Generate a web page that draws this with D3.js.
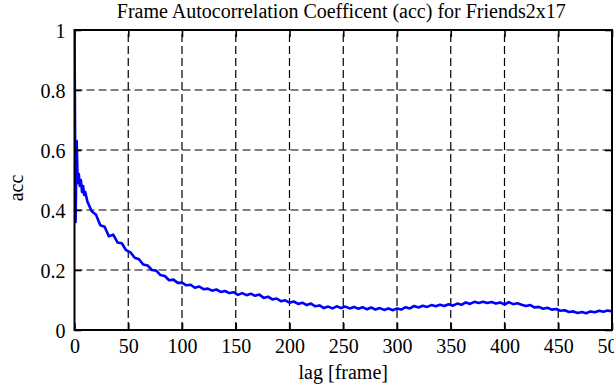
<!DOCTYPE html>
<html>
<head>
<meta charset="utf-8">
<script src="https://cdn.jsdelivr.net/npm/d3@7"></script>
<style>
body { margin: 0; background: #fff; }
text { font-family: "Liberation Serif", "Times New Roman", serif; fill: #000; }
</style>
</head>
<body>
<svg id="canvas" width="614" height="385"></svg>
<script>
const WIDTH = 614;
const HEIGHT = 385;
const LEFT = 74.5, RIGHT = 612, TOP = 30, BOTTOM = 330;
const TICK_LEN = 7;
const FONT_SIZE = "20px";

var title = "Frame Autocorrelation Coefficent (acc) for Friends2x17";
var xLabel = "lag [frame]";
var yLabel = "acc";
var xTicks = [0, 50, 100, 150, 200, 250, 300, 350, 400, 450, 500];
var yTicks = [0, 0.2, 0.4, 0.6, 0.8, 1];

// first frames, one per lag
var headLags = [0, 1, 2, 3, 4, 5, 6, 7, 8, 9, 10];
var headAcc = [1.0, 0.36, 0.63, 0.49, 0.52, 0.48, 0.50, 0.46, 0.48, 0.45, 0.46];

// rest of the curve, read every 4 frames from lag 12 to 500
var tailAcc = [
    0.428, 0.396, 0.384, 0.349, 0.344, 0.312, 0.318, 0.292, 0.289, 0.266,
    0.259, 0.241, 0.236, 0.218, 0.215, 0.200, 0.198, 0.183, 0.180, 0.166,
    0.168, 0.157, 0.158, 0.149, 0.151, 0.141, 0.145, 0.136, 0.138, 0.131,
    0.135, 0.127, 0.130, 0.123, 0.126, 0.117, 0.123, 0.116, 0.121, 0.114,
    0.118, 0.107, 0.111, 0.102, 0.105, 0.096, 0.099, 0.091, 0.095, 0.087,
    0.091, 0.083, 0.088, 0.079, 0.082, 0.073, 0.078, 0.072, 0.079, 0.073,
    0.078, 0.072, 0.077, 0.071, 0.076, 0.069, 0.075, 0.068, 0.073, 0.067,
    0.072, 0.066, 0.072, 0.068, 0.076, 0.072, 0.080, 0.075, 0.081, 0.077,
    0.083, 0.079, 0.084, 0.080, 0.086, 0.081, 0.088, 0.084, 0.092, 0.087,
    0.094, 0.090, 0.094, 0.090, 0.093, 0.088, 0.092, 0.085, 0.093, 0.086,
    0.089, 0.084, 0.080, 0.083, 0.075, 0.077, 0.071, 0.074, 0.068, 0.070,
    0.064, 0.066, 0.060, 0.062, 0.057, 0.060, 0.056, 0.062, 0.059, 0.064,
    0.061, 0.065, 0.062
];

window.onload = function(){
    var data = [];
    for (var i = 0; i < headLags.length; i++){
        data.push({lag: headLags[i], acc: headAcc[i]});
    }
    for (var j = 0; j < tailAcc.length; j++){
        data.push({lag: 12 + 4*j, acc: tailAcc[j]});
    }

    var x = d3.scaleLinear().domain([0, 500]).range([LEFT, RIGHT]);
    var y = d3.scaleLinear().domain([0, 1]).range([BOTTOM, TOP]);

    var svg = d3.select("#canvas");

    svg.append("clipPath").attr("id", "plotClip")
        .append("rect")
        .attr("x", LEFT).attr("y", TOP)
        .attr("width", RIGHT - LEFT).attr("height", BOTTOM - TOP);

    // dashed grid
    var grid = svg.append("g").attr("stroke", "#000").attr("stroke-width", 1.2)
        .attr("stroke-dasharray", "8,4").attr("fill", "none");
    xTicks.slice(1, -1).forEach(function(t){
        grid.append("line")
            .attr("x1", x(t)).attr("x2", x(t))
            .attr("y1", BOTTOM).attr("y2", TOP);
    });
    yTicks.slice(1, -1).forEach(function(t){
        grid.append("line")
            .attr("x1", LEFT).attr("x2", RIGHT)
            .attr("y1", y(t)).attr("y2", y(t));
    });

    // the data line
    var line = d3.line()
        .x(function(d){ return x(d.lag); })
        .y(function(d){ return y(d.acc); });
    svg.append("path")
        .datum(data)
        .attr("clip-path", "url(#plotClip)")
        .attr("fill", "none")
        .attr("stroke", "#0000ff")
        .attr("stroke-width", 2.6)
        .attr("stroke-linejoin", "round")
        .attr("d", line);

    // axes, ticks pointing into the plot
    var fmt = d3.format("~g");
    var bottomAxis = svg.append("g")
        .attr("transform", "translate(0," + BOTTOM + ")")
        .call(d3.axisBottom(x).tickValues(xTicks).tickSize(-TICK_LEN).tickPadding(9).tickFormat(fmt));
    var leftAxis = svg.append("g")
        .attr("transform", "translate(" + LEFT + ",0)")
        .call(d3.axisLeft(y).tickValues(yTicks).tickSize(-TICK_LEN).tickPadding(9).tickFormat(fmt));
    var topAxis = svg.append("g")
        .attr("transform", "translate(0," + TOP + ")")
        .call(d3.axisTop(x).tickValues(xTicks).tickSize(-TICK_LEN).tickFormat(""));
    var rightAxis = svg.append("g")
        .attr("transform", "translate(" + RIGHT + ",0)")
        .call(d3.axisRight(y).tickValues(yTicks).tickSize(-TICK_LEN).tickFormat(""));

    [bottomAxis, leftAxis, topAxis, rightAxis].forEach(function(a){
        a.select(".domain").remove();
        a.selectAll(".tick line").attr("stroke", "#000").attr("stroke-width", 1.6);
        a.selectAll(".tick text")
            .style("font-family", "'Liberation Serif', 'Times New Roman', serif")
            .style("font-size", FONT_SIZE)
            .attr("fill", "#000");
    });
    leftAxis.selectAll(".tick text").attr("dy", "0.36em");

    // border
    svg.append("rect")
        .attr("x", LEFT).attr("y", TOP)
        .attr("width", RIGHT - LEFT).attr("height", BOTTOM - TOP)
        .attr("fill", "none").attr("stroke", "#000").attr("stroke-width", 2);

    svg.append("text")
        .attr("x", (LEFT + RIGHT)/2 - 2).attr("y", 18)
        .attr("text-anchor", "middle")
        .style("font-size", FONT_SIZE)
        .text(title);

    svg.append("text")
        .attr("x", (LEFT + RIGHT)/2).attr("y", 379)
        .attr("text-anchor", "middle")
        .style("font-size", FONT_SIZE)
        .text(xLabel);

    svg.append("text")
        .attr("transform", "translate(23,188) rotate(-90)")
        .attr("text-anchor", "middle")
        .style("font-size", FONT_SIZE)
        .text(yLabel);
};
</script>
</body>
</html>
